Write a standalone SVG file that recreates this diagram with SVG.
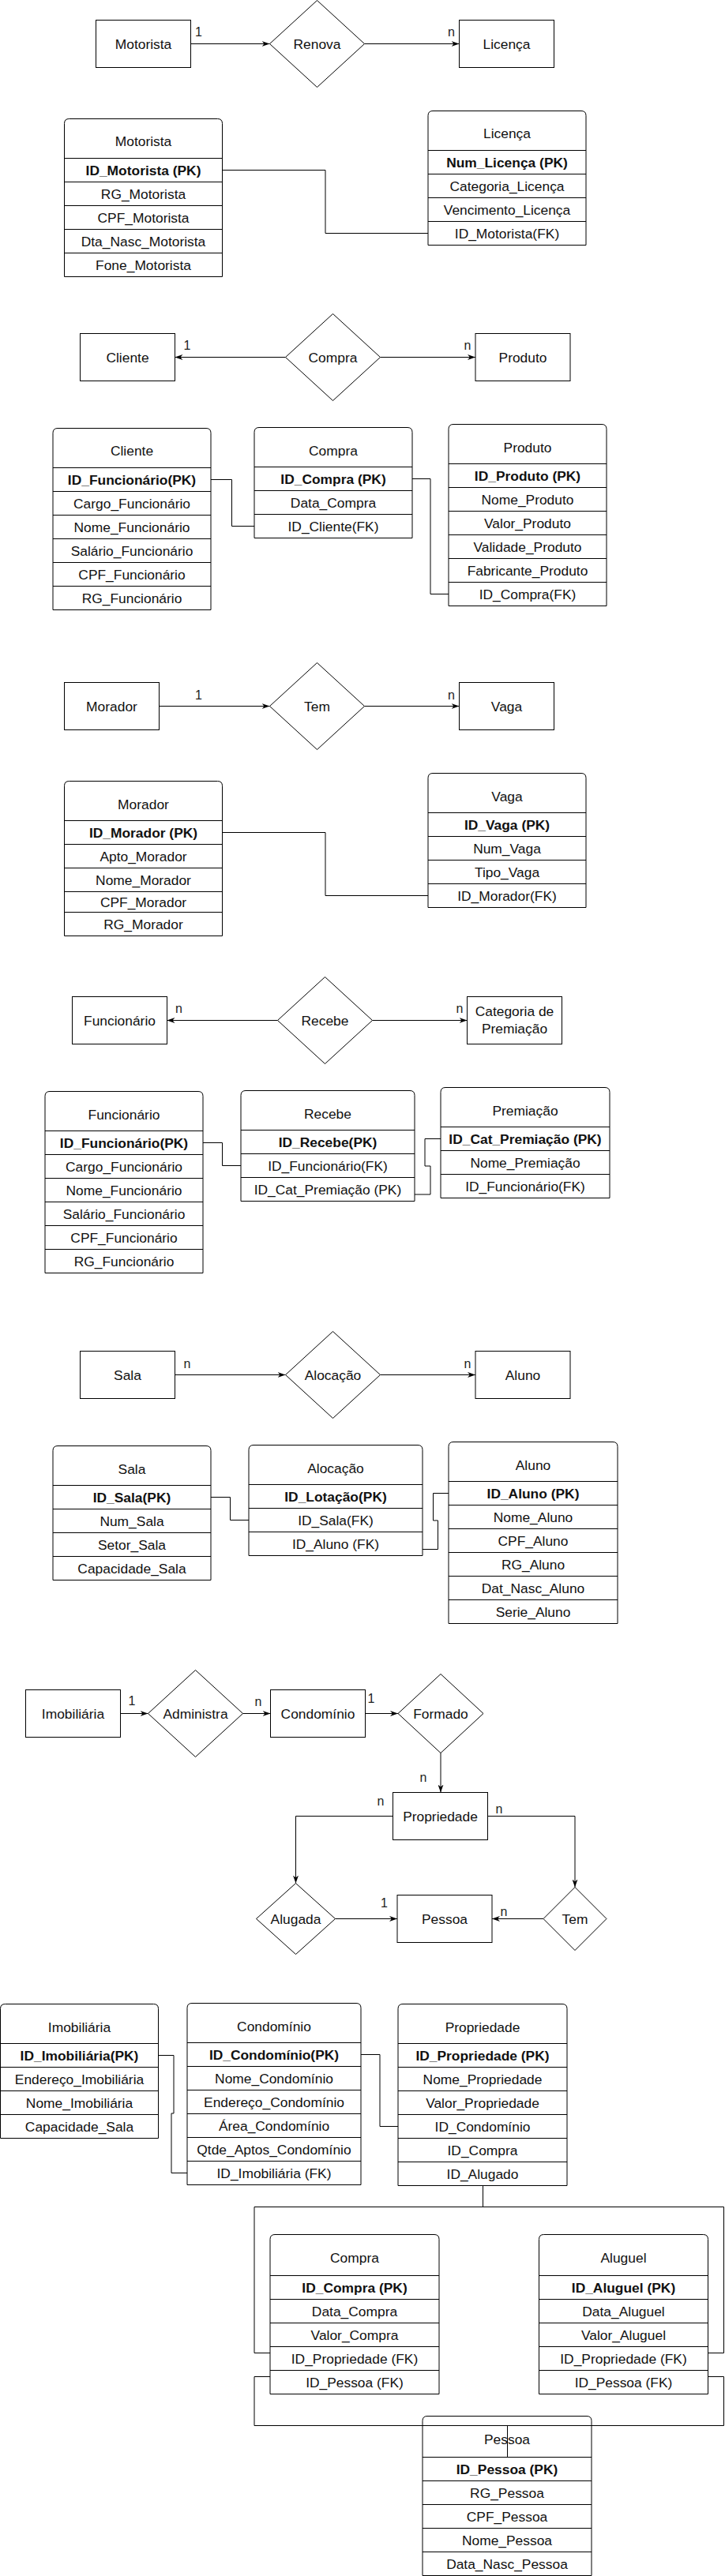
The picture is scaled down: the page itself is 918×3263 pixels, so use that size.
<svg xmlns="http://www.w3.org/2000/svg" width="918" height="3263" viewBox="0 0 918 3263">
<style>
.box{fill:#fff;stroke:#000;stroke-width:1}
.ln{fill:none;stroke:#000;stroke-width:1}
.t{font-family:"Liberation Sans",Arial,sans-serif;font-size:17.4px;fill:#111;text-anchor:middle;dominant-baseline:central}
.b{font-weight:bold}
.lb{font-family:"Liberation Sans",Arial,sans-serif;font-size:16px;fill:#222;text-anchor:middle;dominant-baseline:central}
.c{fill:none;stroke:#000;stroke-width:1}
.a{marker-end:url(#arr)}
</style>
<defs>
<marker id="arr" viewBox="0 0 10 7" refX="10" refY="3.5" markerWidth="10" markerHeight="7" orient="auto" markerUnits="userSpaceOnUse"><path d="M0,0L10,3.5L0,7L3,3.5Z" fill="#000"/></marker>
</defs>
<rect width="918" height="3263" fill="#fff"/>

<!-- Section 1 -->
<g id="e-motorista"><rect class="box" x="121.5" y="25.5" width="120" height="60"/><text class="t" x="181.5" y="55.5">Motorista</text></g>
<g id="r-renova"><polygon class="box" points="401.5,0.5 461.5,55.5 401.5,110.5 341.5,55.5"/><text class="t" x="401.5" y="55.5">Renova</text></g>
<g id="e-licenca"><rect class="box" x="581.5" y="25.5" width="120" height="60"/><text class="t" x="641.5" y="55.5">Licença</text></g>

<g id="t-motorista">
<path class="box" d="M81.5,350.5V156.5Q81.5,150.5 87.5,150.5H275.5Q281.5,150.5 281.5,156.5V350.5Z"/>
<path class="ln" d="M81.5,200.5h200M81.5,230.5h200M81.5,260.5h200M81.5,290.5h200M81.5,320.5h200"/>
<text class="t" x="181.5" y="179">Motorista</text>
<text class="t b" x="181.5" y="215.5">ID_Motorista (PK)</text>
<text class="t" x="181.5" y="245.5">RG_Motorista</text>
<text class="t" x="181.5" y="275.5">CPF_Motorista</text>
<text class="t" x="181.5" y="305.5">Dta_Nasc_Motorista</text>
<text class="t" x="181.5" y="335.5">Fone_Motorista</text>
</g>
<g id="t-licenca">
<path class="box" d="M542,310.5V146.5Q542,140.5 548,140.5H736Q742,140.5 742,146.5V310.5Z"/>
<path class="ln" d="M542,190.5h200M542,220.5h200M542,250.5h200M542,280.5h200"/>
<text class="t" x="642" y="169">Licença</text>
<text class="t b" x="642" y="205.5">Num_Licença (PK)</text>
<text class="t" x="642" y="235.5">Categoria_Licença</text>
<text class="t" x="642" y="265.5">Vencimento_Licença</text>
<text class="t" x="642" y="295.5">ID_Motorista(FK)</text>
</g>

<!-- Section 2 -->
<g id="e-cliente"><rect class="box" x="101.5" y="422.5" width="120" height="60"/><text class="t" x="161.5" y="452.5">Cliente</text></g>
<g id="r-compra"><polygon class="box" points="421.5,397.5 481.5,452.5 421.5,507.5 361.5,452.5"/><text class="t" x="421.5" y="452.5">Compra</text></g>
<g id="e-produto"><rect class="box" x="602" y="422.5" width="120" height="60"/><text class="t" x="662" y="452.5">Produto</text></g>

<g id="t-cliente">
<path class="box" d="M67,772.5V548.5Q67,542.5 73,542.5H261Q267,542.5 267,548.5V772.5Z"/>
<path class="ln" d="M67,592.5h200M67,622.5h200M67,652.5h200M67,682.5h200M67,712.5h200M67,742.5h200"/>
<text class="t" x="167" y="571">Cliente</text>
<text class="t b" x="167" y="607.5">ID_Funcionário(PK)</text>
<text class="t" x="167" y="637.5">Cargo_Funcionário</text>
<text class="t" x="167" y="667.5">Nome_Funcionário</text>
<text class="t" x="167" y="697.5">Salário_Funcionário</text>
<text class="t" x="167" y="727.5">CPF_Funcionário</text>
<text class="t" x="167" y="757.5">RG_Funcionário</text>
</g>
<g id="t-compra1">
<path class="box" d="M322,681.5V547.5Q322,541.5 328,541.5H516Q522,541.5 522,547.5V681.5Z"/>
<path class="ln" d="M322,591.5h200M322,621.5h200M322,651.5h200"/>
<text class="t" x="422" y="570.5">Compra</text>
<text class="t b" x="422" y="606.5">ID_Compra (PK)</text>
<text class="t" x="422" y="636.5">Data_Compra</text>
<text class="t" x="422" y="666.5">ID_Cliente(FK)</text>
</g>
<g id="t-produto">
<path class="box" d="M568,767.5V543.5Q568,537.5 574,537.5H762Q768,537.5 768,543.5V767.5Z"/>
<path class="ln" d="M568,587.5h200M568,617.5h200M568,647.5h200M568,677.5h200M568,707.5h200M568,737.5h200"/>
<text class="t" x="668" y="566.5">Produto</text>
<text class="t b" x="668" y="602.5">ID_Produto (PK)</text>
<text class="t" x="668" y="632.5">Nome_Produto</text>
<text class="t" x="668" y="662.5">Valor_Produto</text>
<text class="t" x="668" y="692.5">Validade_Produto</text>
<text class="t" x="668" y="722.5">Fabricante_Produto</text>
<text class="t" x="668" y="752.5">ID_Compra(FK)</text>
</g>

<!-- Section 3 -->
<g id="e-morador"><rect class="box" x="81.5" y="864.5" width="120" height="60"/><text class="t" x="141.5" y="894.5">Morador</text></g>
<g id="r-tem1"><polygon class="box" points="401.5,839.5 461.5,894.5 401.5,949.5 341.5,894.5"/><text class="t" x="401.5" y="894.5">Tem</text></g>
<g id="e-vaga"><rect class="box" x="581.5" y="864.5" width="120" height="60"/><text class="t" x="641.5" y="894.5">Vaga</text></g>

<g id="t-morador">
<path class="box" d="M81.5,1185.5V995.5Q81.5,989.5 87.5,989.5H275.5Q281.5,989.5 281.5,995.5V1185.5Z"/>
<path class="ln" d="M81.5,1039.5h200M81.5,1069.5h200M81.5,1099.5h200M81.5,1129.5h200M81.5,1155.5h200"/>
<text class="t" x="181.5" y="1018.5">Morador</text>
<text class="t b" x="181.5" y="1054.5">ID_Morador (PK)</text>
<text class="t" x="181.5" y="1084.5">Apto_Morador</text>
<text class="t" x="181.5" y="1114.5">Nome_Morador</text>
<text class="t" x="181.5" y="1142.5">CPF_Morador</text>
<text class="t" x="181.5" y="1170.5">RG_Morador</text>
</g>
<g id="t-vaga">
<path class="box" d="M542,1149.5V985.5Q542,979.5 548,979.5H736Q742,979.5 742,985.5V1149.5Z"/>
<path class="ln" d="M542,1029.5h200M542,1059.5h200M542,1089.5h200M542,1119.5h200"/>
<text class="t" x="642" y="1008.5">Vaga</text>
<text class="t b" x="642" y="1044.5">ID_Vaga (PK)</text>
<text class="t" x="642" y="1074.5">Num_Vaga</text>
<text class="t" x="642" y="1104.5">Tipo_Vaga</text>
<text class="t" x="642" y="1134.5">ID_Morador(FK)</text>
</g>

<!-- Section 4 -->
<g id="e-funcionario"><rect class="box" x="91.5" y="1262.5" width="120" height="60"/><text class="t" x="151.5" y="1292.5">Funcionário</text></g>
<g id="r-recebe"><polygon class="box" points="411.5,1237.5 471.5,1292.5 411.5,1347.5 351.5,1292.5"/><text class="t" x="411.5" y="1292.5">Recebe</text></g>
<g id="e-categoria"><rect class="box" x="591.5" y="1262.5" width="120" height="60"/><text class="t" x="651.5" y="1281">Categoria de</text><text class="t" x="651.5" y="1303">Premiação</text></g>

<g id="t-funcionario">
<path class="box" d="M57,1612.5V1388.5Q57,1382.5 63,1382.5H251Q257,1382.5 257,1388.5V1612.5Z"/>
<path class="ln" d="M57,1432.5h200M57,1462.5h200M57,1492.5h200M57,1522.5h200M57,1552.5h200M57,1582.5h200"/>
<text class="t" x="157" y="1411.5">Funcionário</text>
<text class="t b" x="157" y="1447.5">ID_Funcionário(PK)</text>
<text class="t" x="157" y="1477.5">Cargo_Funcionário</text>
<text class="t" x="157" y="1507.5">Nome_Funcionário</text>
<text class="t" x="157" y="1537.5">Salário_Funcionário</text>
<text class="t" x="157" y="1567.5">CPF_Funcionário</text>
<text class="t" x="157" y="1597.5">RG_Funcionário</text>
</g>
<g id="t-recebe">
<path class="box" d="M305,1521.5V1387.5Q305,1381.5 311,1381.5H519Q525,1381.5 525,1387.5V1521.5Z"/>
<path class="ln" d="M305,1431.5h220M305,1461.5h220M305,1491.5h220"/>
<text class="t" x="415" y="1410.5">Recebe</text>
<text class="t b" x="415" y="1446.5">ID_Recebe(PK)</text>
<text class="t" x="415" y="1476.5">ID_Funcionário(FK)</text>
<text class="t" x="415" y="1506.5">ID_Cat_Premiação (PK)</text>
</g>
<g id="t-premiacao">
<path class="box" d="M558,1517.5V1383.5Q558,1377.5 564,1377.5H766Q772,1377.5 772,1383.5V1517.5Z"/>
<path class="ln" d="M558,1427.5h214M558,1457.5h214M558,1487.5h214"/>
<text class="t" x="665" y="1406.5">Premiação</text>
<text class="t b" x="665" y="1442.5">ID_Cat_Premiação (PK)</text>
<text class="t" x="665" y="1472.5">Nome_Premiação</text>
<text class="t" x="665" y="1502.5">ID_Funcionário(FK)</text>
</g>

<!-- Section 5 -->
<g id="e-sala"><rect class="box" x="101.5" y="1711.5" width="120" height="60"/><text class="t" x="161.5" y="1741.5">Sala</text></g>
<g id="r-alocacao"><polygon class="box" points="421.5,1686.5 481.5,1741.5 421.5,1796.5 361.5,1741.5"/><text class="t" x="421.5" y="1741.5">Alocação</text></g>
<g id="e-aluno"><rect class="box" x="602" y="1711.5" width="120" height="60"/><text class="t" x="662" y="1741.5">Aluno</text></g>

<g id="t-sala">
<path class="box" d="M67,2001.5V1837.5Q67,1831.5 73,1831.5H261Q267,1831.5 267,1837.5V2001.5Z"/>
<path class="ln" d="M67,1881.5h200M67,1911.5h200M67,1941.5h200M67,1971.5h200"/>
<text class="t" x="167" y="1860.5">Sala</text>
<text class="t b" x="167" y="1896.5">ID_Sala(PK)</text>
<text class="t" x="167" y="1926.5">Num_Sala</text>
<text class="t" x="167" y="1956.5">Setor_Sala</text>
<text class="t" x="167" y="1986.5">Capacidade_Sala</text>
</g>
<g id="t-alocacao">
<path class="box" d="M315,1970.5V1836.5Q315,1830.5 321,1830.5H529Q535,1830.5 535,1836.5V1970.5Z"/>
<path class="ln" d="M315,1880.5h220M315,1910.5h220M315,1940.5h220"/>
<text class="t" x="425" y="1859.5">Alocação</text>
<text class="t b" x="425" y="1895.5">ID_Lotação(PK)</text>
<text class="t" x="425" y="1925.5">ID_Sala(FK)</text>
<text class="t" x="425" y="1955.5">ID_Aluno (FK)</text>
</g>
<g id="t-aluno">
<path class="box" d="M568,2056.5V1832.5Q568,1826.5 574,1826.5H776Q782,1826.5 782,1832.5V2056.5Z"/>
<path class="ln" d="M568,1876.5h214M568,1906.5h214M568,1936.5h214M568,1966.5h214M568,1996.5h214M568,2026.5h214"/>
<text class="t" x="675" y="1855.5">Aluno</text>
<text class="t b" x="675" y="1891.5">ID_Aluno (PK)</text>
<text class="t" x="675" y="1921.5">Nome_Aluno</text>
<text class="t" x="675" y="1951.5">CPF_Aluno</text>
<text class="t" x="675" y="1981.5">RG_Aluno</text>
<text class="t" x="675" y="2011.5">Dat_Nasc_Aluno</text>
<text class="t" x="675" y="2041.5">Serie_Aluno</text>
</g>

<!-- Section 6 -->
<g id="e-imobiliaria"><rect class="box" x="32.5" y="2140.5" width="120" height="60"/><text class="t" x="92.5" y="2170.5">Imobiliária</text></g>
<g id="r-administra"><polygon class="box" points="247.5,2115.5 307.5,2170.5 247.5,2225.5 187.5,2170.5"/><text class="t" x="247.5" y="2170.5">Administra</text></g>
<g id="e-condominio"><rect class="box" x="342.5" y="2140.5" width="120" height="60"/><text class="t" x="402.5" y="2170.5">Condomínio</text></g>
<g id="r-formado"><polygon class="box" points="558,2120.5 612,2170.5 558,2220.5 504,2170.5"/><text class="t" x="558" y="2170.5">Formado</text></g>
<g id="e-propriedade"><rect class="box" x="497.5" y="2270.5" width="120" height="60"/><text class="t" x="557.5" y="2300.5">Propriedade</text></g>
<g id="r-alugada"><polygon class="box" points="374.5,2385.5 424.5,2430.5 374.5,2475.5 324.5,2430.5"/><text class="t" x="374.5" y="2430.5">Alugada</text></g>
<g id="e-pessoa"><rect class="box" x="503" y="2400.5" width="120" height="60"/><text class="t" x="563" y="2430.5">Pessoa</text></g>
<g id="r-tem2"><polygon class="box" points="728,2390.5 768,2430.5 728,2470.5 688,2430.5"/><text class="t" x="728" y="2430.5">Tem</text></g>

<g id="t-imobiliaria">
<path class="box" d="M0.5,2708.5V2544.5Q0.5,2538.5 6.5,2538.5H194.5Q200.5,2538.5 200.5,2544.5V2708.5Z"/>
<path class="ln" d="M0.5,2588.5h200M0.5,2618.5h200M0.5,2648.5h200M0.5,2678.5h200"/>
<text class="t" x="100.5" y="2567.5">Imobiliária</text>
<text class="t b" x="100.5" y="2603.5">ID_Imobiliária(PK)</text>
<text class="t" x="100.5" y="2633.5">Endereço_Imobiliária</text>
<text class="t" x="100.5" y="2663.5">Nome_Imobiliária</text>
<text class="t" x="100.5" y="2693.5">Capacidade_Sala</text>
</g>
<g id="t-condominio">
<path class="box" d="M237,2767.5V2543.5Q237,2537.5 243,2537.5H451Q457,2537.5 457,2543.5V2767.5Z"/>
<path class="ln" d="M237,2587.5h220M237,2617.5h220M237,2647.5h220M237,2677.5h220M237,2707.5h220M237,2737.5h220"/>
<text class="t" x="347" y="2566.5">Condomínio</text>
<text class="t b" x="347" y="2602.5">ID_Condomínio(PK)</text>
<text class="t" x="347" y="2632.5">Nome_Condomínio</text>
<text class="t" x="347" y="2662.5">Endereço_Condomínio</text>
<text class="t" x="347" y="2692.5">Área_Condomínio</text>
<text class="t" x="347" y="2722.5">Qtde_Aptos_Condomínio</text>
<text class="t" x="347" y="2752.5">ID_Imobiliária (FK)</text>
</g>
<g id="t-propriedade">
<path class="box" d="M504,2768.5V2544.5Q504,2538.5 510,2538.5H712Q718,2538.5 718,2544.5V2768.5Z"/>
<path class="ln" d="M504,2588.5h214M504,2618.5h214M504,2648.5h214M504,2678.5h214M504,2708.5h214M504,2738.5h214"/>
<text class="t" x="611" y="2567.5">Propriedade</text>
<text class="t b" x="611" y="2603.5">ID_Propriedade (PK)</text>
<text class="t" x="611" y="2633.5">Nome_Propriedade</text>
<text class="t" x="611" y="2663.5">Valor_Propriedade</text>
<text class="t" x="611" y="2693.5">ID_Condomínio</text>
<text class="t" x="611" y="2723.5">ID_Compra</text>
<text class="t" x="611" y="2753.5">ID_Alugado</text>
</g>
<g id="t-compra2">
<path class="box" d="M342,3032.5V2836.5Q342,2830.5 348,2830.5H550Q556,2830.5 556,2836.5V3032.5Z"/>
<path class="ln" d="M342,2882.5h214M342,2912.5h214M342,2942.5h214M342,2972.5h214M342,3002.5h214"/>
<text class="t" x="449" y="2859.5">Compra</text>
<text class="t b" x="449" y="2897.5">ID_Compra (PK)</text>
<text class="t" x="449" y="2927.5">Data_Compra</text>
<text class="t" x="449" y="2957.5">Valor_Compra</text>
<text class="t" x="449" y="2987.5">ID_Propriedade (FK)</text>
<text class="t" x="449" y="3017.5">ID_Pessoa (FK)</text>
</g>
<g id="t-aluguel">
<path class="box" d="M682.5,3032.5V2836.5Q682.5,2830.5 688.5,2830.5H890.5Q896.5,2830.5 896.5,2836.5V3032.5Z"/>
<path class="ln" d="M682.5,2882.5h214M682.5,2912.5h214M682.5,2942.5h214M682.5,2972.5h214M682.5,3002.5h214"/>
<text class="t" x="789.5" y="2859.5">Aluguel</text>
<text class="t b" x="789.5" y="2897.5">ID_Aluguel (PK)</text>
<text class="t" x="789.5" y="2927.5">Data_Aluguel</text>
<text class="t" x="789.5" y="2957.5">Valor_Aluguel</text>
<text class="t" x="789.5" y="2987.5">ID_Propriedade (FK)</text>
<text class="t" x="789.5" y="3017.5">ID_Pessoa (FK)</text>
</g>
<g id="t-pessoa">
<path class="box" d="M535,3262.5V3066.5Q535,3060.5 541,3060.5H743Q749,3060.5 749,3066.5V3262.5Z"/>
<path class="ln" d="M535,3112.5h214M535,3142.5h214M535,3172.5h214M535,3202.5h214M535,3232.5h214"/>
<text class="t" x="642" y="3089.5">Pessoa</text>
<text class="t b" x="642" y="3127.5">ID_Pessoa (PK)</text>
<text class="t" x="642" y="3157.5">RG_Pessoa</text>
<text class="t" x="642" y="3187.5">CPF_Pessoa</text>
<text class="t" x="642" y="3217.5">Nome_Pessoa</text>
<text class="t" x="642" y="3247.5">Data_Nasc_Pessoa</text>
</g>

<g id="connectors">
<path class="c a" d="M241.5,55.5H341.5"/>
<path class="c a" d="M461.5,55.5H581.5"/>
<path class="c" d="M281.5,215.5H412V295.5H542"/>
<path class="c a" d="M361.5,452.5H221.5"/>
<path class="c a" d="M481.5,452.5H602"/>
<path class="c" d="M267,607.5H293.5V666.5H322"/>
<path class="c" d="M522,606.5H545V752.5H568"/>
<path class="c a" d="M201.5,894.5H341.5"/>
<path class="c a" d="M461.5,894.5H581.5"/>
<path class="c" d="M281.5,1054.5H412V1134.5H542"/>
<path class="c a" d="M351.5,1292.5H211.5"/>
<path class="c a" d="M471.5,1292.5H591.5"/>
<path class="c" d="M257,1447.5H281.5V1476.5H305"/>
<path class="c" d="M525,1513H545V1477H538V1442.5H558"/>
<path class="c a" d="M221.5,1741.5H361.5"/>
<path class="c a" d="M481.5,1741.5H602"/>
<path class="c" d="M267,1896.5H291.5V1925.5H315"/>
<path class="c" d="M535,1962.5H554.5V1926H548.5V1891.5H568"/>
<path class="c a" d="M152.5,2170.5H187.5"/>
<path class="c a" d="M307.5,2170.5H342.5"/>
<path class="c a" d="M462.5,2170.5H504"/>
<path class="c a" d="M558,2220.5V2270.5"/>
<path class="c a" d="M497.5,2300.5H374.5V2385.5"/>
<path class="c a" d="M617.5,2300.5H728V2390.5"/>
<path class="c a" d="M424.5,2430.5H503"/>
<path class="c a" d="M688,2430.5H623"/>
<path class="c" d="M200.5,2603.5H220V2677H217V2752.5H237"/>
<path class="c" d="M457,2602.5H481V2693.5H504"/>
<path class="c" d="M611.5,2768.5V2795.5M322,2795.5H916.5M322,2795.5V2980.5H342M916.5,2795.5V2980.5H896.5"/>
<path class="c" d="M342,3010.5H322V3072.5H916.5V3010.5H896.5M642.5,3072.5V3112.5"/>
</g>

<g id="labels">
<text class="lb" x="251.5" y="40.5">1</text>
<text class="lb" x="571.5" y="40.5">n</text>
<text class="lb" x="237" y="437">1</text>
<text class="lb" x="592" y="437">n</text>
<text class="lb" x="251.5" y="880">1</text>
<text class="lb" x="571.5" y="880">n</text>
<text class="lb" x="226.5" y="1277">n</text>
<text class="lb" x="582" y="1277">n</text>
<text class="lb" x="237" y="1727">n</text>
<text class="lb" x="592" y="1727">n</text>
<text class="lb" x="167" y="2154">1</text>
<text class="lb" x="327" y="2155">n</text>
<text class="lb" x="470" y="2151">1</text>
<text class="lb" x="536" y="2251">n</text>
<text class="lb" x="482" y="2281">n</text>
<text class="lb" x="632" y="2291">n</text>
<text class="lb" x="486.5" y="2410">1</text>
<text class="lb" x="638" y="2421">n</text>
</g>
</svg>
